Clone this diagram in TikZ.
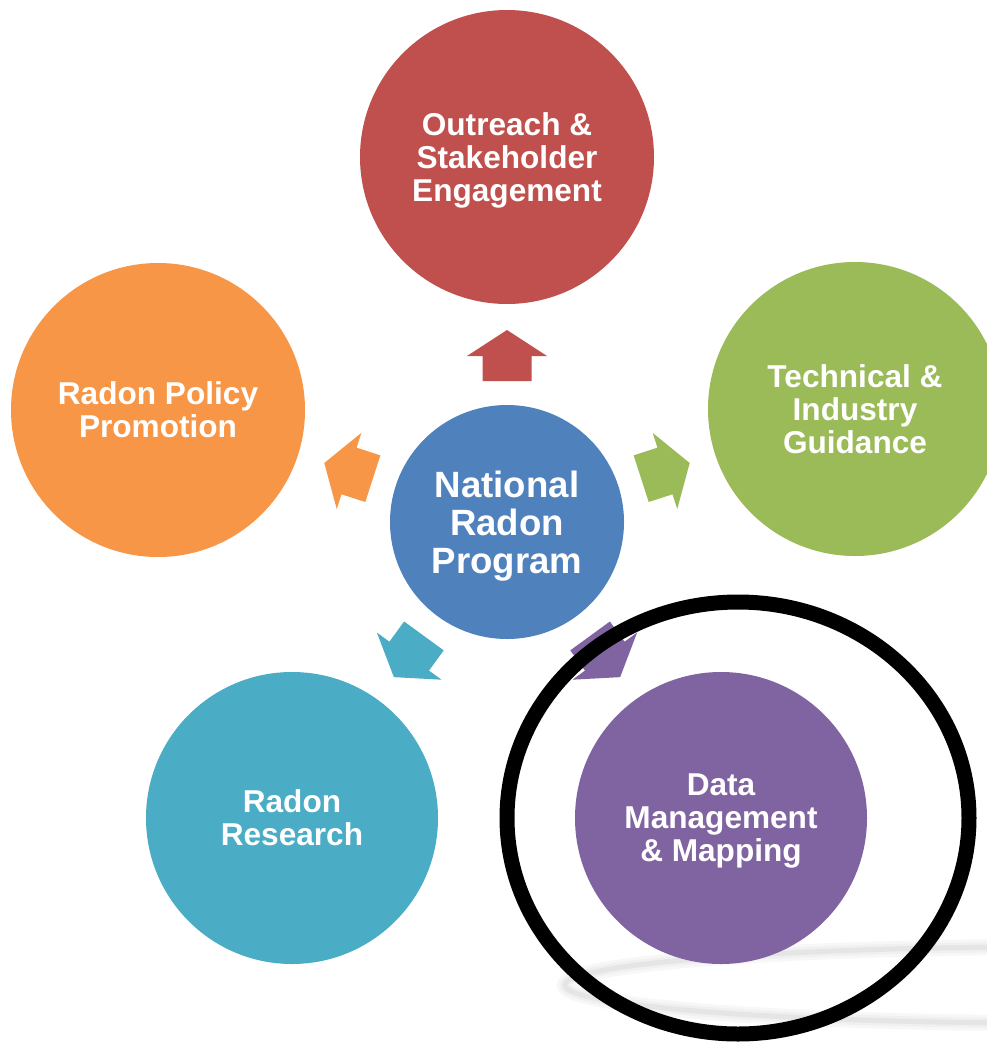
\documentclass[tikz,border=0pt]{standalone}
\usepackage{fontspec}
\setmainfont{Liberation Sans}
\definecolor{cRed}{HTML}{C0504D}
\definecolor{cOrange}{HTML}{F79646}
\definecolor{cGreen}{HTML}{9BBB59}
\definecolor{cBlue}{HTML}{4F81BD}
\definecolor{cTeal}{HTML}{4BACC6}
\definecolor{cPurple}{HTML}{8064A2}
\begin{document}
\begin{tikzpicture}[x=1pt,y=-1pt,
  bubble/.style={circle, inner sep=0pt, outer sep=0pt, minimum size=294pt, text depth=0pt,
    text=white, align=center, font=\fontsize{31.6}{33}\selectfont\bfseries},
  hubstyle/.style={bubble, minimum size=234pt, font=\fontsize{36.6}{38}\selectfont\bfseries},
  blockarr/.pic={\path[pic actions] (141,-24.5) -- (166,-24.5) -- (166,-40) -- (192,0)
    -- (166,40) -- (166,24.5) -- (141,24.5) -- cycle;},
  swoosh/.style={line width=#1},
  ring/.style={draw=black, line width=15pt}
]
\useasboundingbox (0,0) rectangle (987,1047);
\clip (0,0) rectangle (987,1047);
\fill[white] (0,0) rectangle (987,1047);
% soft grey shadow swoosh
\draw[swoosh=16pt, black!3] (1050,985) ellipse [x radius=485, y radius=38];
\draw[swoosh=10pt, black!6] (1050,985) ellipse [x radius=485, y radius=38];
\draw[swoosh=5pt, black!10] (1050,985) ellipse [x radius=485, y radius=38];
% circles
\node[hubstyle, fill=cBlue] (hub) at (507,522) {National\\Radon\\Program};
\node[bubble, fill=cRed] (outreach) at (507,157) {Outreach \&\\Stakeholder\\Engagement};
\node[bubble, fill=cOrange] (policy) at (158,410) {Radon Policy\\Promotion};
\node[bubble, fill=cGreen] (tech) at (855,409) {Technical \&\\Industry\\Guidance};
\node[bubble, fill=cTeal, minimum size=292pt] (research) at (292,818) {Radon\\Research};
\node[bubble, fill=cPurple, minimum size=292pt] (data) at (721,818) {Data\\Management\\\& Mapping};
% block arrows from the hub
\pic[fill=cRed, rotate=90] at (hub.center) {blockarr};
\pic[fill=cOrange, rotate=162.1] at (hub.center) {blockarr};
\pic[fill=cGreen, rotate=17.9] at (hub.center) {blockarr};
\pic[fill=cTeal, rotate=233.9] at (hub.center) {blockarr};
\pic[fill=cPurple, rotate=306.1] at (hub.center) {blockarr};
% black highlight ring
\draw[ring] (738,818) ellipse [x radius=231, y radius=216];
\end{tikzpicture}
\end{document}
